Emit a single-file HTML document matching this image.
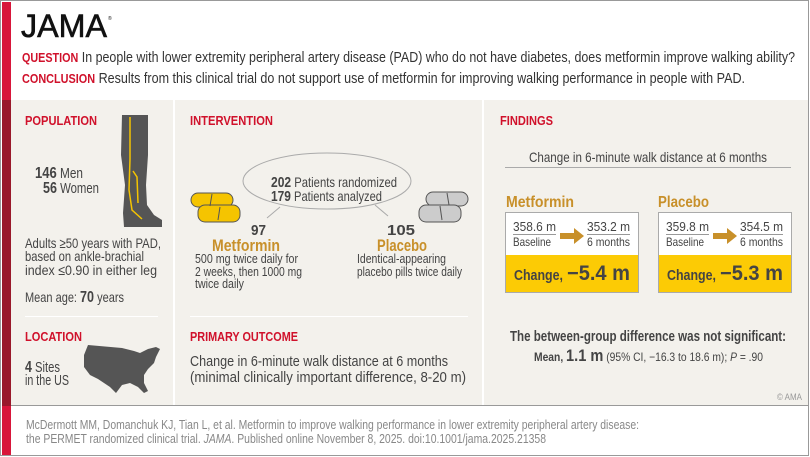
<!DOCTYPE html>
<html><head><meta charset="utf-8"><style>
*{margin:0;padding:0}
body{width:810px;height:457px;overflow:hidden;background:#fff}
svg{display:block}
text{font-family:"Liberation Sans",sans-serif;fill:#444}
.h{fill:#d0112b;font-weight:bold;font-size:13px}
.g{fill:#c8902a;font-weight:bold}
.b{font-weight:bold}
</style></head><body>
<svg width="810" height="457" viewBox="0 0 810 457">
<rect x="0.5" y="0.5" width="808" height="455" fill="#fff" stroke="#999"/>
<rect x="2" y="2" width="9" height="98" fill="#d8163a"/>
<rect x="2" y="100" width="9" height="306" fill="#99182a"/>
<rect x="2" y="406" width="9" height="49" fill="#d8163a"/>
<rect x="11" y="100" width="797" height="306" fill="#f3f1ec"/>
<rect x="173" y="100" width="2" height="306" fill="#fff"/>
<rect x="482" y="100" width="2" height="306" fill="#fff"/>
<rect x="11" y="405" width="797" height="1" fill="#999"/>

<text x="21" y="37" font-size="32" style="fill:#111;stroke:#111;stroke-width:0.6" textLength="86" lengthAdjust="spacingAndGlyphs">JAMA</text>
<text x="108" y="20" font-size="5" style="fill:#111">®</text>
<text x="22" y="62" font-size="15" textLength="773" lengthAdjust="spacingAndGlyphs" style="fill:#333"><tspan class="h" font-size="14">QUESTION</tspan> In people with lower extremity peripheral artery disease (PAD) who do not have diabetes, does metformin improve walking ability?</text>
<text x="22" y="83" font-size="15" textLength="723" lengthAdjust="spacingAndGlyphs" style="fill:#333"><tspan class="h" font-size="14">CONCLUSION</tspan> Results from this clinical trial do not support use of metformin for improving walking performance in people with PAD.</text>

<!-- col1 -->
<text class="h" x="25" y="125" textLength="72" lengthAdjust="spacingAndGlyphs">POPULATION</text>
<g transform="translate(120,115)"><path d="M2 0H28L28 40L26 70L27 90L34 100L42 105L42 112L4 112L3 98L5 70L1 40Z" fill="#555"/><path d="M10 2L10 44L9 75L12 95L22 104M13 56L17 62L18 88" stroke="#f5c400" stroke-width="1.5" fill="none"/></g>
<text x="35" y="178" font-size="14.5" textLength="48" lengthAdjust="spacingAndGlyphs"><tspan class="b" font-size="16">146</tspan> Men</text>
<text x="43" y="193" font-size="14.5" textLength="56" lengthAdjust="spacingAndGlyphs"><tspan class="b" font-size="16">56</tspan> Women</text>
<text x="25" y="248" font-size="14" textLength="136" lengthAdjust="spacingAndGlyphs">Adults ≥50 years with PAD,</text>
<text x="25" y="261" font-size="14" textLength="119" lengthAdjust="spacingAndGlyphs">based on ankle-brachial</text>
<text x="25" y="275" font-size="14" textLength="132" lengthAdjust="spacingAndGlyphs">index ≤0.90 in either leg</text>
<text x="25" y="302" font-size="14" textLength="99" lengthAdjust="spacingAndGlyphs">Mean age: <tspan class="b" font-size="16">70</tspan> years</text>
<rect x="25" y="316" width="133" height="1" fill="#fff"/>
<text class="h" x="25" y="341" textLength="57" lengthAdjust="spacingAndGlyphs">LOCATION</text>
<path transform="translate(82,345)" d="M6 0L40 3L52 6L58 8L66 4L74 2L78 4L74 12L72 18L66 24L62 30L62 38L66 46L62 48L56 42L48 38L40 40L34 48L28 42L22 38L16 34L8 30L2 22L2 10Z" fill="#555"/>
<text x="25" y="372" font-size="14.5" textLength="35" lengthAdjust="spacingAndGlyphs"><tspan class="b" font-size="16">4</tspan> Sites</text>
<text x="25" y="385" font-size="14.5" textLength="44" lengthAdjust="spacingAndGlyphs">in the US</text>

<!-- col2 -->
<text class="h" x="190" y="125" textLength="83" lengthAdjust="spacingAndGlyphs">INTERVENTION</text>
<g transform="translate(185,150)">
<ellipse cx="142" cy="31" rx="84" ry="28" fill="none" stroke="#aaa"/>
<line x1="95" y1="57" x2="82" y2="68" stroke="#aaa"/><line x1="190" y1="55" x2="203" y2="66" stroke="#aaa"/>
<rect x="6" y="43" width="42" height="14" rx="7" fill="#f5c400" stroke="#555"/><rect x="13" y="55" width="42" height="17" rx="7" fill="#f5c400" stroke="#555"/>
<line x1="27" y1="44" x2="25" y2="56" stroke="#555"/><line x1="35" y1="57" x2="33" y2="70" stroke="#555"/>
<rect x="241" y="42" width="42" height="14" rx="7" fill="#ccc" stroke="#555"/><rect x="234" y="55" width="42" height="17" rx="7" fill="#ccc" stroke="#555"/>
<line x1="262" y1="43" x2="264" y2="55" stroke="#555"/><line x1="255" y1="56" x2="257" y2="70" stroke="#555"/>
</g>
<text x="271" y="187" font-size="14" textLength="126" lengthAdjust="spacingAndGlyphs"><tspan class="b" font-size="15">202</tspan> Patients randomized</text>
<text x="271" y="201" font-size="14" textLength="111" lengthAdjust="spacingAndGlyphs"><tspan class="b" font-size="15">179</tspan> Patients analyzed</text>
<text class="b" x="251" y="235" font-size="15" textLength="15" lengthAdjust="spacingAndGlyphs">97</text>
<text class="g" x="212" y="251" font-size="17" textLength="68" lengthAdjust="spacingAndGlyphs">Metformin</text>
<text x="195" y="263" font-size="12.5" textLength="103" lengthAdjust="spacingAndGlyphs">500 mg twice daily for</text>
<text x="195" y="276" font-size="12.5" textLength="107" lengthAdjust="spacingAndGlyphs">2 weeks, then 1000 mg</text>
<text x="195" y="288" font-size="12.5" textLength="49" lengthAdjust="spacingAndGlyphs">twice daily</text>
<text class="b" x="387" y="235" font-size="15" textLength="28" lengthAdjust="spacingAndGlyphs">105</text>
<text class="g" x="377" y="251" font-size="17" textLength="50" lengthAdjust="spacingAndGlyphs">Placebo</text>
<text x="357" y="263" font-size="12.5" textLength="89" lengthAdjust="spacingAndGlyphs">Identical-appearing</text>
<text x="357" y="276" font-size="12.5" textLength="105" lengthAdjust="spacingAndGlyphs">placebo pills twice daily</text>
<rect x="190" y="316" width="278" height="1" fill="#fff"/>
<text class="h" x="190" y="341" textLength="108" lengthAdjust="spacingAndGlyphs">PRIMARY OUTCOME</text>
<text x="190" y="366" font-size="15" textLength="258" lengthAdjust="spacingAndGlyphs">Change in 6-minute walk distance at 6 months</text>
<text x="190" y="382" font-size="15" textLength="276" lengthAdjust="spacingAndGlyphs">(minimal clinically important difference, 8-20 m)</text>

<!-- col3 -->
<text class="h" x="500" y="125" textLength="53" lengthAdjust="spacingAndGlyphs">FINDINGS</text>
<text x="529" y="162" font-size="14" textLength="238" lengthAdjust="spacingAndGlyphs">Change in 6-minute walk distance at 6 months</text>
<rect x="505" y="167" width="286" height="1" fill="#aaa"/>
<text class="g" x="506" y="207" font-size="16" textLength="68" lengthAdjust="spacingAndGlyphs">Metformin</text>
<text class="g" x="658" y="207" font-size="16" textLength="51" lengthAdjust="spacingAndGlyphs">Placebo</text>

<rect x="505.5" y="212.5" width="133" height="80" fill="#fff" stroke="#aaa"/>
<rect x="506" y="255" width="132" height="37" fill="#fccb05"/>
<text x="513" y="231" font-size="13" textLength="43" lengthAdjust="spacingAndGlyphs">358.6 m</text>
<rect x="513" y="234" width="43" height="1" fill="#999"/>
<text x="513" y="246" font-size="12" textLength="38" lengthAdjust="spacingAndGlyphs">Baseline</text>
<text x="587" y="231" font-size="13" textLength="43" lengthAdjust="spacingAndGlyphs">353.2 m</text>
<rect x="587" y="234" width="43" height="1" fill="#999"/>
<text x="587" y="246" font-size="12" textLength="43" lengthAdjust="spacingAndGlyphs">6 months</text>
<path transform="translate(560,228)" d="M0 5H14V0L24 8L14 16V11H0Z" fill="#c8902a"/>
<text class="b" x="514" y="280" font-size="14.5" textLength="49" lengthAdjust="spacingAndGlyphs">Change,</text>
<text class="b" x="567" y="280" font-size="21" textLength="63" lengthAdjust="spacingAndGlyphs">−5.4 m</text>

<rect x="658.5" y="212.5" width="133" height="80" fill="#fff" stroke="#aaa"/>
<rect x="659" y="255" width="132" height="37" fill="#fccb05"/>
<text x="666" y="231" font-size="13" textLength="43" lengthAdjust="spacingAndGlyphs">359.8 m</text>
<rect x="666" y="234" width="43" height="1" fill="#999"/>
<text x="666" y="246" font-size="12" textLength="38" lengthAdjust="spacingAndGlyphs">Baseline</text>
<text x="740" y="231" font-size="13" textLength="43" lengthAdjust="spacingAndGlyphs">354.5 m</text>
<rect x="740" y="234" width="43" height="1" fill="#999"/>
<text x="740" y="246" font-size="12" textLength="43" lengthAdjust="spacingAndGlyphs">6 months</text>
<path transform="translate(713,228)" d="M0 5H14V0L24 8L14 16V11H0Z" fill="#c8902a"/>
<text class="b" x="667" y="280" font-size="14.5" textLength="49" lengthAdjust="spacingAndGlyphs">Change,</text>
<text class="b" x="720" y="280" font-size="21" textLength="63" lengthAdjust="spacingAndGlyphs">−5.3 m</text>

<text class="b" x="510" y="341" font-size="15" textLength="276" lengthAdjust="spacingAndGlyphs">The between-group difference was not significant:</text>
<text x="534" y="361" font-size="12" textLength="229" lengthAdjust="spacingAndGlyphs"><tspan class="b">Mean, </tspan><tspan class="b" font-size="17">1.1 m</tspan> (95% CI, −16.3 to 18.6 m); <tspan font-style="italic">P</tspan> = .90</text>
<text x="777" y="400" font-size="9" style="fill:#999" textLength="25" lengthAdjust="spacingAndGlyphs">© AMA</text>

<text x="26" y="429" font-size="13" style="fill:#888" textLength="613" lengthAdjust="spacingAndGlyphs">McDermott MM, Domanchuk KJ, Tian L, et al. Metformin to improve walking performance in lower extremity peripheral artery disease:</text>
<text x="26" y="443" font-size="13" style="fill:#888" textLength="520" lengthAdjust="spacingAndGlyphs">the PERMET randomized clinical trial. <tspan font-style="italic">JAMA</tspan>. Published online November 8, 2025. doi:10.1001/jama.2025.21358</text>
</svg>
</body></html>
